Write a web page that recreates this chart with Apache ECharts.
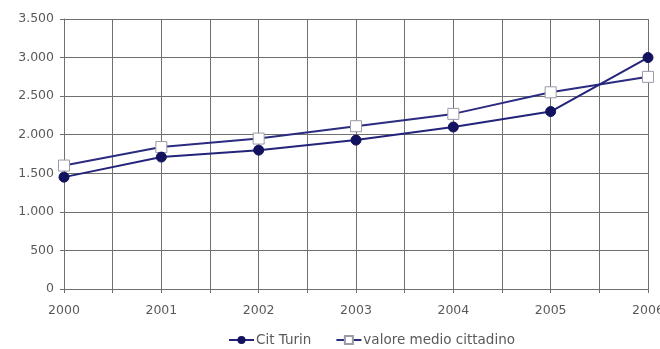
<!DOCTYPE html>
<html>
<head>
<meta charset="utf-8">
<script src="https://cdn.jsdelivr.net/npm/echarts@6/dist/echarts.min.js"></script>
<style>
  html, body { margin: 0; padding: 0; background: #fff; }
  #chart { width: 660px; height: 349px; }
</style>
</head>
<body>
<div id="chart"></div>
<script>
// Years on the horizontal axis
const years = [2000, 2001, 2002, 2003, 2004, 2005, 2006];
// Series values
const citTurin = [1450, 1710, 1800, 1930, 2100, 2300, 3000];
const valoreMedio = [1600, 1840, 1950, 2110, 2270, 2550, 2750];
const seriesNames = ['Cit Turin', 'valore medio cittadino'];

const fmtThousands = v => String(v).replace(/\B(?=(\d{3})+(?!\d))/g, '.');

const chart = echarts.init(document.getElementById('chart'));
chart.setOption({
  animation: false,
  backgroundColor: '#fff',
  textStyle: { fontFamily: 'DejaVu Sans, Verdana, sans-serif' },
  grid: { left: 64, right: 12, top: 19, bottom: 60, outerBoundsMode: 'none', containLabel: false },
  legend: {
    top: 333,
    left: 228,
    itemWidth: 25,
    itemHeight: 10,
    itemGap: 24,
    padding: 0,
    textStyle: { color: '#5a5a5a', fontSize: 13.5, padding: [0, 0, 0, -3] },
    data: seriesNames
  },
  xAxis: {
    type: 'value',
    min: 2000,
    max: 2006,
    interval: 0.5,
    axisLine: { show: true, lineStyle: { color: '#707070' } },
    axisTick: { show: true, length: 4, lineStyle: { color: '#707070' } },
    axisLabel: {
      color: '#5a5a5a',
      fontSize: 12.5,
      margin: 15,
      formatter: v => (Number.isInteger(v) ? String(v) : '')
    },
    splitLine: { show: true, lineStyle: { color: '#707070', width: 1 } }
  },
  yAxis: {
    type: 'value',
    min: 0,
    max: 3500,
    interval: 500,
    axisLine: { show: true, lineStyle: { color: '#707070' } },
    axisTick: { show: true, length: 4, lineStyle: { color: '#707070' } },
    axisLabel: { color: '#5a5a5a', fontSize: 12.5, margin: 10, formatter: fmtThousands },
    splitLine: { show: true, lineStyle: { color: '#707070', width: 1 } }
  },
  series: [
    {
      name: seriesNames[0],
      type: 'line',
      data: years.map((y, i) => [y, citTurin[i]]),
      symbol: 'circle',
      symbolSize: 10,
      lineStyle: { color: '#23237a', width: 2 },
      itemStyle: { color: '#12125e', borderColor: '#12125e' },
      z: 3
    },
    {
      name: seriesNames[1],
      type: 'line',
      data: years.map((y, i) => [y, valoreMedio[i]]),
      symbol: 'rect',
      symbolSize: 11,
      lineStyle: { color: '#2b2b80', width: 2 },
      itemStyle: { color: '#ffffff', borderColor: '#9a9aa8', borderWidth: 1 },
      z: 2
    }
  ]
});
</script>
</body>
</html>
